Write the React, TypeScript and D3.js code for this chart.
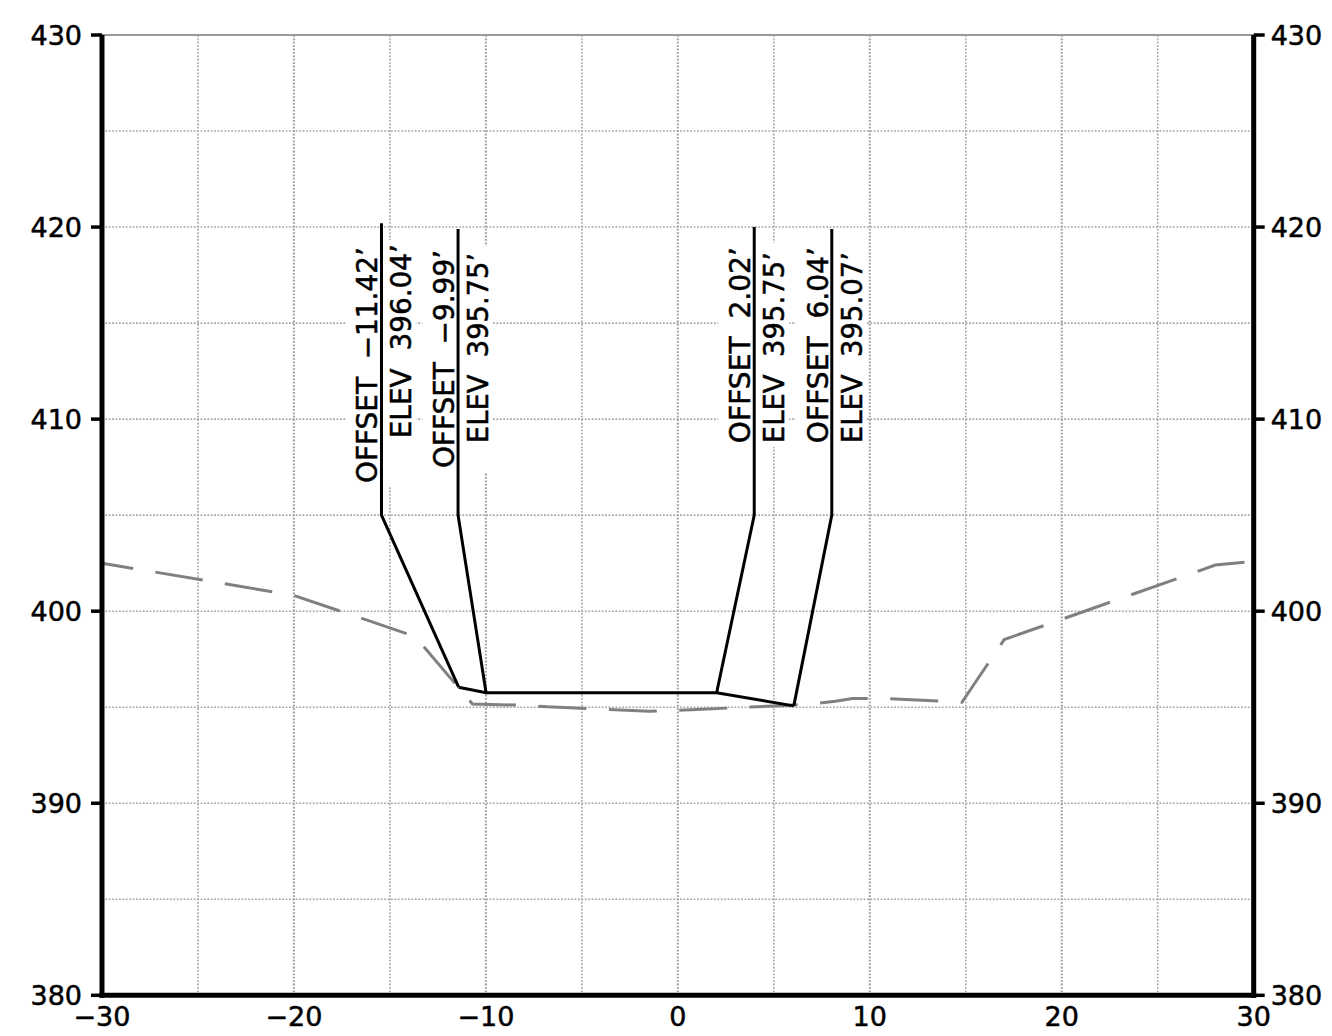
import React, { useEffect } from 'react';
import * as d3 from 'd3';

// ---------- data ----------
const xTickValues = [-30, -20, -10, 0, 10, 20, 30];
const yTickValues = [380, 390, 400, 410, 420, 430];
const gridXValues = [-25, -20, -15, -10, -5, 0, 5, 10, 15, 20, 25];
const gridYValues = [385, 390, 395, 400, 405, 410, 415, 420, 425];

// existing ground (dashed gray)
const groundOffset = [-30, -20, -13.7, -10.7, -8, -6.8, -4.2, -1.5, 0.7, 3.2, 5.8, 7.0, 8.2, 9.1, 10.7, 11.9, 14.8, 17.0, 28, 30];
const groundElev = [402.5, 400.82, 398.69, 395.17, 395.1, 395.02, 394.91, 394.79, 394.87, 394.98, 395.1, 395.17, 395.31, 395.45, 395.45, 395.4, 395.26, 398.52, 402.4, 402.6];

// design section (black)
const designOffset = [-11.42, -9.99, 2.02, 6.04];
const designElev = [396.04, 395.75, 395.75, 395.07];

// leader lines
const leaderOffset = [-15.44, -11.45, 3.98, 8.02];
const leaderTop = [420.2, 419.9, 420.0, 419.9];
const leaderBreak = 405;

// labels
const labelText = [
  'OFFSET  \u221211.42\u2019',
  'ELEV  396.04\u2019',
  'OFFSET  \u22129.99\u2019',
  'ELEV  395.75\u2019',
  'OFFSET  2.02\u2019',
  'ELEV  395.75\u2019',
  'OFFSET  6.04\u2019',
  'ELEV  395.07\u2019',
];
const labelLeader = [0, 0, 1, 1, 2, 2, 3, 3];
const labelStart = [406.67, 409.0, 407.45, 408.75, 408.75, 408.75, 408.75, 408.75];
const labelEnd = [418.8, 418.96, 418.65, 418.5, 418.8, 418.54, 418.8, 418.54];

// ---------- chart ----------
const W = 1332;
const H = 1036;
const FONT = '"DejaVu Sans", Verdana, sans-serif';

const fmt = (v: number) => (v < 0 ? '\u2212' + Math.abs(v) : String(v));

export default function App() {
  useEffect(() => {
    document.body.style.margin = '0';
  }, []);

  const x = d3.scaleLinear().domain([-30, 30]).range([102, 1253.7]);
  const y = d3.scaleLinear().domain([380, 430]).range([995.3, 35]);

  const line = d3
    .line<[number, number]>()
    .x((d) => x(d[0]))
    .y((d) => y(d[1]));

  const ground: [number, number][] = groundOffset.map((o, i) => [o, groundElev[i]]);
  const design: [number, number][] = designOffset.map((o, i) => [o, designElev[i]]);

  const x0 = x(-30);
  const x1 = x(30);
  const yTop = y(430);
  const yBot = y(380);

  const textStroke = { stroke: '#000', strokeWidth: 0.5 } as const;

  return (
    <svg
      width={W}
      height={H}
      viewBox={`0 0 ${W} ${H}`}
      style={{ position: 'absolute', left: 0, top: 0, display: 'block', background: '#fff' }}
    >
      {/* grid */}
      <g>
        {gridXValues.map((v) => (
          <line
            key={'gx' + v}
            x1={x(v)}
            x2={x(v)}
            y1={yTop}
            y2={yBot}
            stroke="#a6a6a6"
            strokeWidth={v % 10 === 0 ? 2.2 : 1.6}
            strokeDasharray="1.8 1.6"
          />
        ))}
        {gridYValues.map((v) => (
          <line
            key={'gy' + v}
            x1={x0}
            x2={x1}
            y1={y(v)}
            y2={y(v)}
            stroke="#a6a6a6"
            strokeWidth={1.6}
            strokeDasharray="1.8 1.6"
          />
        ))}
      </g>

      {/* label masks */}
      <g>
        {leaderOffset.map((lo, i) => {
          const idx = labelLeader.map((l, j) => (l === i ? j : -1)).filter((j) => j >= 0);
          const top = Math.min(...idx.map((j) => y(labelEnd[j]))) - 7;
          const bot = Math.max(...idx.map((j) => y(labelStart[j]))) + 4;
          return (
            <rect
              key={'m' + i}
              x={x(lo) - 36}
              y={top}
              width={71}
              height={bot - top}
              fill="#fff"
            />
          );
        })}
      </g>

      {/* top border */}
      <line x1={x0} x2={x1} y1={yTop} y2={yTop} stroke="#9a9a9a" strokeWidth={2.2} />

      {/* ground line */}
      <path
        d={line(ground) || ''}
        fill="none"
        stroke="#808080"
        strokeWidth={3}
        strokeDasharray="48 22.5"
        strokeDashoffset={16.4}
      />

      {/* design section */}
      <path d={line(design) || ''} fill="none" stroke="#000" strokeWidth={3} strokeLinejoin="miter" />

      {/* leaders */}
      {leaderOffset.map((lo, i) => {
        const pts: [number, number][] = [
          [lo, leaderTop[i]],
          [lo, leaderBreak],
          [designOffset[i], designElev[i]],
        ];
        return (
          <path key={'l' + i} d={line(pts) || ''} fill="none" stroke="#000" strokeWidth={3} />
        );
      })}

      {/* labels */}
      {labelText.map((t, j) => {
        const lx = x(leaderOffset[labelLeader[j]]);
        const bx = j % 2 === 0 ? lx - 4 : lx + 30;
        const by = y(labelStart[j]);
        const len = y(labelStart[j]) - y(labelEnd[j]) + 3;
        return (
          <text
            key={'t' + j}
            transform={`translate(${bx},${by}) rotate(-90)`}
            fontFamily={FONT}
            fontSize={28}
            fill="#000"
            {...textStroke}
            textLength={len}
            lengthAdjust="spacingAndGlyphs"
            style={{ whiteSpace: 'pre' }}
          >
            {t}
          </text>
        );
      })}

      {/* axes */}
      <line x1={x0} x2={x0} y1={yTop} y2={yBot + 2.5} stroke="#000" strokeWidth={5} />
      <line x1={x1} x2={x1} y1={yTop} y2={yBot + 2.5} stroke="#000" strokeWidth={5} />
      <line x1={x0 - 2.5} x2={x1 + 2.5} y1={yBot} y2={yBot} stroke="#000" strokeWidth={5} />

      {/* y ticks + labels */}
      {yTickValues.map((v) => (
        <g key={'yt' + v}>
          <line x1={x0 - 11} x2={x0} y1={y(v)} y2={y(v)} stroke="#000" strokeWidth={3.5} />
          <line x1={x1} x2={x1 + 11} y1={y(v)} y2={y(v)} stroke="#000" strokeWidth={3.5} />
          <text
            x={x0 - 20}
            y={y(v) + 10}
            textAnchor="end"
            fontFamily={FONT}
            fontSize={27}
            fill="#000"
            {...textStroke}
          >
            {fmt(v)}
          </text>
          <text
            x={x1 + 17}
            y={y(v) + 10}
            textAnchor="start"
            fontFamily={FONT}
            fontSize={27}
            fill="#000"
            {...textStroke}
          >
            {fmt(v)}
          </text>
        </g>
      ))}

      {/* x labels */}
      {xTickValues.map((v) => (
        <text
          key={'xt' + v}
          x={x(v)}
          y={yBot + 31}
          textAnchor="middle"
          fontFamily={FONT}
          fontSize={27}
          fill="#000"
          {...textStroke}
        >
          {fmt(v)}
        </text>
      ))}
    </svg>
  );
}
